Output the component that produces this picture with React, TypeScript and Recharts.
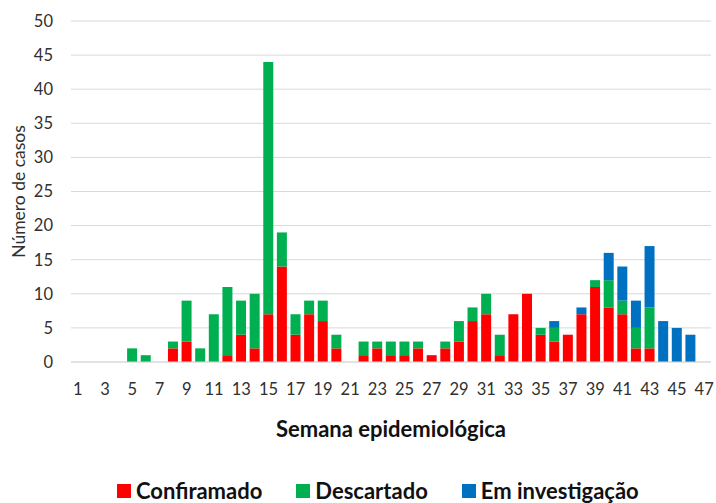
import React from 'react';
import { BarChart, Bar, XAxis, YAxis, CartesianGrid, Legend } from 'recharts';

const weeks = Array.from({ length: 47 }, (_, i) => String(i + 1));
const confirmado = [0,0,0,0,0,0,0,2,3,0,0,1,4,2,7,14,4,7,6,2,0,1,2,1,1,2,1,2,3,6,7,1,7,10,4,3,4,7,11,8,7,2,2,0,0,0,0];
const descartado = [0,0,0,0,2,1,0,1,6,2,7,10,5,8,37,5,3,2,3,2,0,2,1,2,2,1,0,1,3,2,3,3,0,0,1,2,0,0,1,4,2,3,6,0,0,0,0];
const investigacao = [0,0,0,0,0,0,0,0,0,0,0,0,0,0,0,0,0,0,0,0,0,0,0,0,0,0,0,0,0,0,0,0,0,0,0,1,0,1,0,4,5,4,9,6,5,4,0];
const yTicks = [0,5,10,15,20,25,30,35,40,45,50];

const data = weeks.map((w, i) => ({
  semana: w,
  Confirmado: confirmado[i],
  Descartado: descartado[i],
  Investigacao: investigacao[i],
}));

const FONT = 'Lato, "Open Sans", sans-serif';
const TEXT = '#303030';
const TITLE = '#111111';

const legendItems = [
  { label: 'Confiramado', color: '#FF0000' },
  { label: 'Descartado', color: '#00B050' },
  { label: 'Em investigação', color: '#0070C0' },
];

const LegendContent = () => (
  <div style={{ display: 'flex', justifyContent: 'flex-start', alignItems: 'center', fontFamily: FONT, fontWeight: 700, fontSize: 22, lineHeight: '26px', color: TITLE, paddingLeft: 117 }}>
    {legendItems.map((it, i) => (
      <div key={i} style={{ display: 'flex', alignItems: 'center', marginLeft: i === 0 ? 0 : 34 }}>
        <span style={{ display: 'inline-block', width: 14, height: 14, background: it.color, marginRight: 5 }} />
        <span>{it.label}</span>
      </div>
    ))}
  </div>
);

export default function App() {
  return (
    <div style={{ position: 'absolute', left: 0, top: 0, width: 716, height: 503, background: '#fff', overflow: 'hidden' }}>
      <BarChart
        width={716}
        height={503}
        data={data}
        margin={{ top: 21, right: 5, left: 0, bottom: 85 }}
        barCategoryGap="12%"
      >
        <CartesianGrid vertical={false} stroke="#d9d9d9" strokeWidth={1} />
        <XAxis
          dataKey="semana"
          interval={1}
          tickLine={false}
          axisLine={{ stroke: '#d9d9d9' }}
          tickSize={0}
          tickMargin={21}
          height={30}
          tick={{ fontFamily: FONT, fontSize: 16.5, fill: TEXT }}
          label={{ value: 'Semana epidemiológica', position: 'bottom', offset: 29, style: { fontFamily: FONT, fontSize: 22, fontWeight: 700, fill: TITLE } }}
        />
        <YAxis
          domain={[0, 50]}
          ticks={yTicks}
          interval={0}
          width={71}
          tickLine={false}
          axisLine={false}
          tickSize={0}
          tickMargin={18}
          tick={{ fontFamily: FONT, fontSize: 16.5, fill: TEXT }}
          label={{
            content: (props: any) => {
              const vb = props.viewBox || {};
              const cx = 18;
              const cy = (vb.y || 0) + (vb.height || 0) / 2;
              return (
                <text x={cx} y={cy} transform={`rotate(-90 ${cx} ${cy})`} textAnchor="middle" dominantBaseline="central" style={{ fontFamily: FONT, fontSize: 17.5, fill: TEXT }}>
                  Número de casos
                </text>
              );
            },
          }}
        />
        <Legend
          verticalAlign="bottom"
          content={<LegendContent />}
          wrapperStyle={{ top: 478, bottom: 'auto', left: 0, width: 716 }}
        />
        <Bar dataKey="Confirmado" stackId="a" fill="#FF0000" isAnimationActive={false} />
        <Bar dataKey="Descartado" stackId="a" fill="#00B050" isAnimationActive={false} />
        <Bar dataKey="Investigacao" stackId="a" fill="#0070C0" isAnimationActive={false} />
      </BarChart>
    </div>
  );
}
